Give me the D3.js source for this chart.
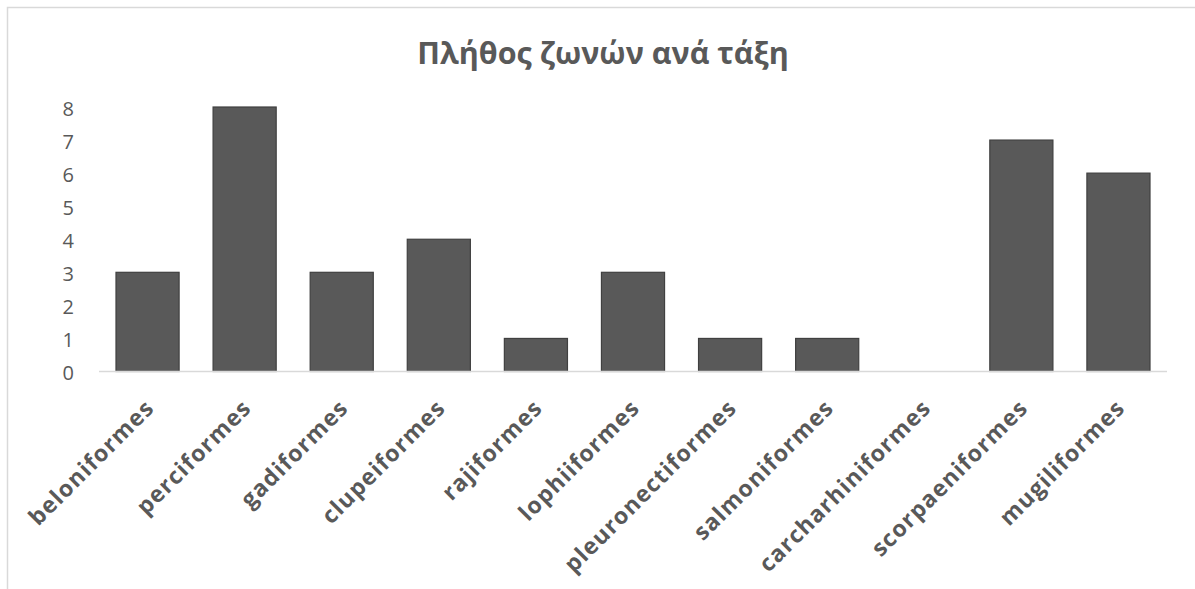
<!DOCTYPE html>
<html><head><meta charset="utf-8">
<script src="https://cdn.jsdelivr.net/npm/d3@7"></script>
<style>body{margin:0;background:#fff}svg{display:block}</style>
</head><body>
<script>
const categories = ["beloniformes","perciformes","gadiformes","clupeiformes","rajiformes","lophiiformes","pleuronectiformes","salmoniformes","carcharhiniformes","scorpaeniformes","mugiliformes"];
const values = [3,8,3,4,1,3,1,1,0,7,6];
const yTicks = [0,1,2,3,4,5,6,7,8];
const title = "Πλήθος ζωνών ανά τάξη";

const W = 1195, H = 589;
const svg = d3.select("body").append("svg").attr("width", W).attr("height", H);
svg.append("rect").attr("width", W).attr("height", H).attr("fill", "#fff");
svg.append("rect").attr("x", 7.5).attr("y", 7.5).attr("width", W).attr("height", H)
  .attr("fill", "none").attr("stroke", "#d9d9d9").attr("stroke-width", 1.5);

const x = d3.scaleBand().domain(categories).range([99, 1167]).paddingInner(0.35).paddingOuter(0.175);
const y = d3.scaleLinear().domain([0, 8]).range([371.5, 107]);

svg.append("text").attr("x", 603).attr("y", 64).attr("text-anchor", "middle")
  .attr("font-family", "Open Sans, sans-serif").attr("font-weight", "bold")
  .attr("font-size", 30.5).attr("fill", "#595959").text(title);

// y axis labels
const yAxis = d3.axisLeft(y).tickValues(yTicks).tickSize(0).tickPadding(0).tickFormat(d3.format("d"));
const ya = svg.append("g").attr("transform", "translate(74,0)").call(yAxis);
ya.select(".domain").remove();
ya.selectAll("text").attr("font-family", "Open Sans, sans-serif").attr("font-size", 20)
  .attr("fill", "#595959").attr("dy", "0.42em");

// bars
svg.append("g").selectAll("rect").data(values).join("rect")
  .attr("x", (d, i) => x(categories[i]))
  .attr("width", x.bandwidth())
  .attr("y", d => y(d))
  .attr("height", d => y(0) - y(d))
  .attr("fill", "#595959").attr("stroke", "#404040").attr("stroke-width", 1.2);

// x axis line
const xAxis = d3.axisBottom(x).tickSize(0).tickPadding(0);
const xa = svg.append("g").attr("transform", `translate(0,${y(0)})`).call(xAxis);
xa.select(".domain").attr("stroke", "#d9d9d9").attr("stroke-width", 1.5).attr("d", "M99,0H1167");
xa.selectAll(".tick text")
  .attr("font-family", "Open Sans, sans-serif").attr("font-weight", "bold").attr("font-size", 23)
  .attr("letter-spacing", 1.1)
  .attr("fill", "#595959").attr("text-anchor", "end").attr("dy", null).attr("y", null)
  .attr("transform", "translate(8,38) rotate(-45)");
</script>
</body></html>
